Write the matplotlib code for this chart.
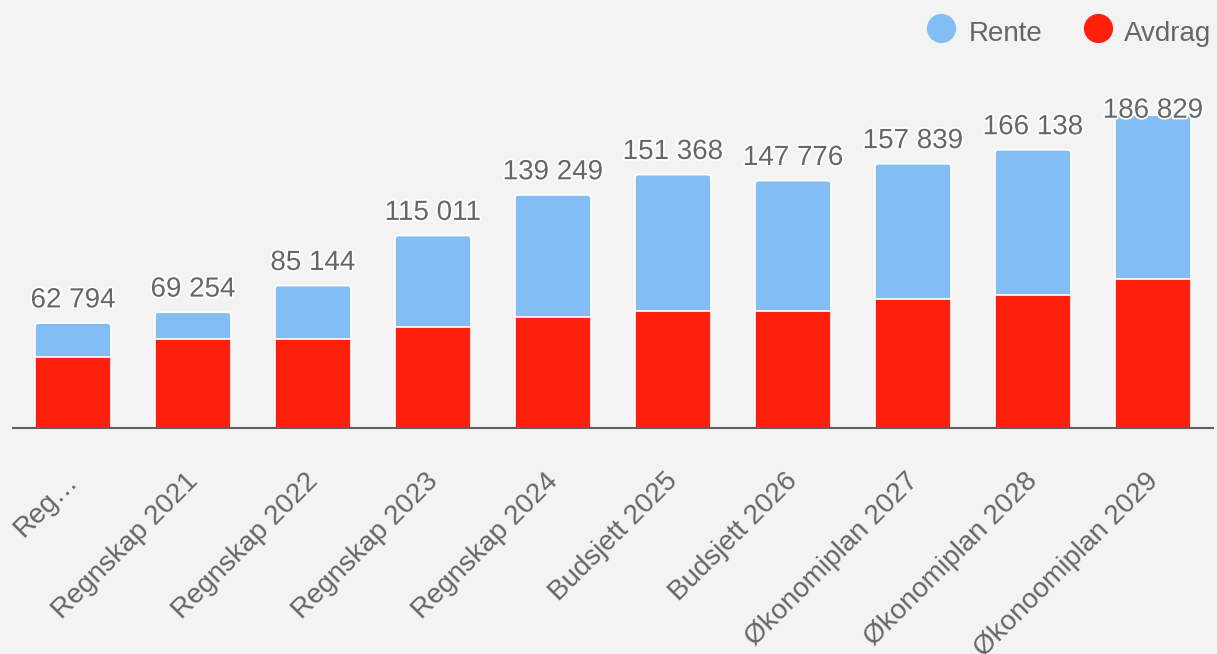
"""Stacked bars of annual debt service (Rente + Avdrag) with totals on top."""
import matplotlib
import numpy as np

matplotlib.use("Agg")
import matplotlib.pyplot as plt
import matplotlib.patheffects as pe
from matplotlib.lines import Line2D
from matplotlib.patches import FancyBboxPatch
from matplotlib.transforms import offset_copy


CATEGORIES = ["Reg…", "Regnskap 2021", "Regnskap 2022", "Regnskap 2023", "Regnskap 2024",
              "Budsjett 2025", "Budsjett 2026", "Økonomiplan 2027", "Økonomiplan 2028",
              "Økonoomiplan 2029"]
AVDRAG = [42700, 53300, 53300, 60600, 66600, 70000, 70000, 77200, 79500, 89100]
RENTE = [20094, 15954, 31844, 54411, 72649, 81368, 77776, 80639, 86638, 97729]

BLUE = "#82bef3"
RED = "#ff200b"
TEXT = "#666666"
BG = "#f3f3f3"
W, H = 1217, 654
YMAX = 200000
AX_H = 335.2  # axes height in pixels


def px(x, y):
    return x / W, 1 - y / H


def main() -> None:
    plt.rcParams["font.family"] = ["Liberation Sans", "DejaVu Sans"]
    fig = plt.figure(figsize=(W / 100, H / 100), dpi=100, facecolor=BG)
    ax = fig.add_axes([13 / W, (H - 428.3) / H, 1200 / W, AX_H / H])
    ax.set_facecolor(BG)

    x = np.arange(len(CATEGORIES))
    avdrag = np.array(AVDRAG)
    rente = np.array(RENTE)
    total = avdrag + rente
    width = 0.633
    unit = YMAX / AX_H  # data units per pixel
    ax.bar(x, avdrag, width, color=RED, edgecolor="white", linewidth=1.2, zorder=2)
    # upper segment with rounded top corners; it reaches a little into the red one below
    radius = 3 / 120
    for xi, low, h in zip(x, avdrag, rente):
        ax.add_patch(FancyBboxPatch((xi - width / 2, low - 4 * unit), width, h + 4 * unit,
                                    boxstyle=f"round,pad=0,rounding_size={radius}",
                                    mutation_aspect=3 * unit / radius,
                                    facecolor=BLUE, edgecolor="white", linewidth=1.2, zorder=1.9))

    ax.set_xlim(-0.5, len(CATEGORIES) - 0.5)
    ax.set_ylim(0, YMAX)
    for side in ("left", "right", "top"):
        ax.spines[side].set_visible(False)
    ax.spines["bottom"].set_color("#606060")
    ax.spines["bottom"].set_linewidth(1.5)
    ax.spines["bottom"].set_zorder(3)
    ax.set_xticks([])
    ax.set_yticks([])

    # totals above each stack, kept inside the plot area near the top
    for xi, value in zip(x, total):
        y = min(value + 13500, 189500)
        ax.text(xi, y, f"{value:,}".replace(",", " "), ha="center", va="center",
                fontsize=20, color=TEXT, zorder=4,
                path_effects=[pe.withStroke(linewidth=2.5, foreground="white")])

    # rotated category labels ending at each bar's centre
    trans = offset_copy(ax.get_xaxis_transform(), fig=fig, x=6, y=-54, units="dots")
    for xi, label in zip(x, CATEGORIES):
        ax.text(xi, 0, label, transform=trans, rotation=45, rotation_mode="anchor",
                ha="right", va="baseline", fontsize=20, color=TEXT)

    # legend
    for cx, tx, label, color in ((940.7, 968.3, "Rente", BLUE), (1098, 1124, "Avdrag", RED)):
        fig.add_artist(Line2D([px(cx, 28)[0]], [px(cx, 28)[1]], marker="o", markersize=20,
                              color=color, linestyle="none", transform=fig.transFigure))
        fig.text(*px(tx, 40.7), label, ha="left", va="baseline", fontsize=20, color=TEXT)

    fig.savefig("out.png", dpi=100, facecolor=BG)
    plt.close(fig)


if __name__ == "__main__":
    main()
